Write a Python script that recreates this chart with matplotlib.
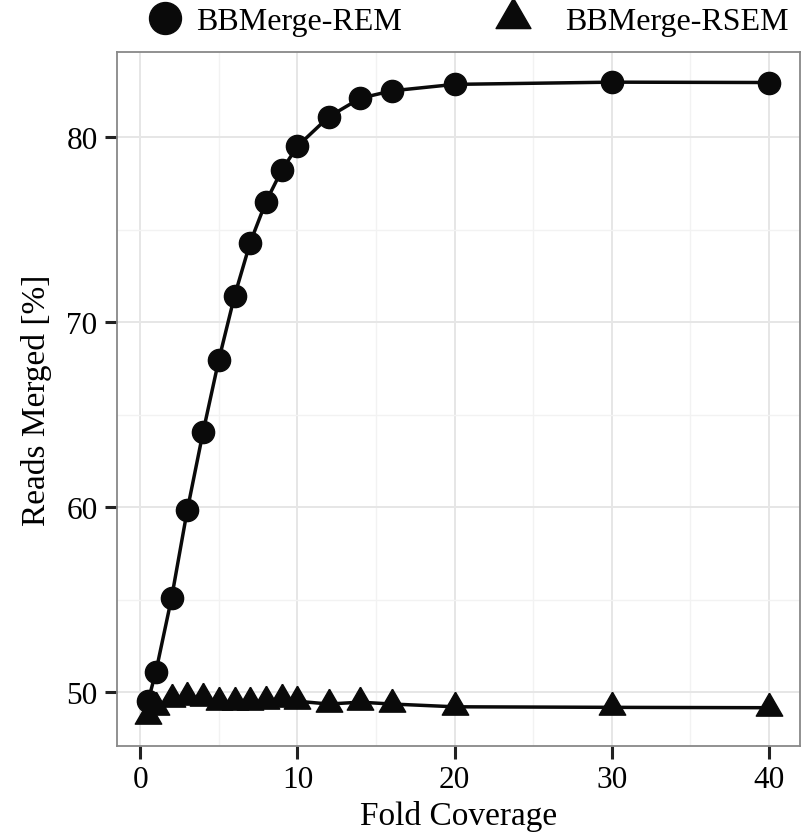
import numpy as np
import matplotlib
matplotlib.use("Agg")
import matplotlib.pyplot as plt
from matplotlib.lines import Line2D

coverage = [0.5, 1, 2, 3, 4, 5, 6, 7, 8, 9, 10, 12, 14, 16, 20, 30, 40]
rem = [49.5, 51.1, 55.1, 59.85, 64.05, 67.95, 71.4, 74.3, 76.5, 78.2, 79.5,
       81.1, 82.1, 82.5, 82.85, 82.97, 82.95]
rsem = [48.7, 49.2, 49.6, 49.75, 49.65, 49.45, 49.45, 49.45, 49.5, 49.6, 49.5,
        49.35, 49.45, 49.35, 49.2, 49.17, 49.15]
series_names = ["BBMerge-REM", "BBMerge-RSEM"]
x_ticks = [0, 10, 20, 30, 40]
y_ticks = [50, 60, 70, 80]

plt.rcParams['font.family'] = ['Liberation Serif', 'DejaVu Serif']

W, H = 804, 837
fig = plt.figure(figsize=(W / 100, H / 100), dpi=100)
ax = fig.add_axes([117 / W, 1 - 747 / H, (800 - 117) / W, (747 - 53) / H])

h = np.sqrt(3) / 2
tri = [(0, 2 * h / 3), (-0.5, -h / 3), (0.5, -h / 3), (0, 2 * h / 3)]

ink = '#0a0a0a'
ax.plot(coverage, rem, color=ink, lw=2.5, marker='o', ms=16, mfc=ink, mec=ink,
        zorder=3, label=series_names[0])
ax.plot(coverage, rsem, color=ink, lw=2.5, marker=tri, ms=22, mfc=ink, mec=ink,
        zorder=3, label=series_names[1])

ax.set_xlim(-1.475, 41.975)
ax.set_ylim(47.08, 84.6)
ax.set_xticks(x_ticks)
ax.set_yticks(y_ticks)
ax.set_xticks([5, 15, 25, 35], minor=True)
ax.set_yticks([55, 65, 75], minor=True)
ax.grid(True, which='major', color='#e6e6e6', lw=1.4, zorder=0)
ax.grid(True, which='minor', color='#f2f2f2', lw=1.0, zorder=0)
ax.set_axisbelow(True)
ax.tick_params(which='major', length=9, width=2.2, color='#222222',
               labelsize=22.5, pad=5)
ax.tick_params(which='minor', length=0)
for s in ax.spines.values():
    s.set_color('#888888')
    s.set_linewidth(1.3)

ax.set_xlabel('Fold Coverage', fontsize=24, labelpad=4)
ax.set_ylabel('Reads Merged [%]', fontsize=24, labelpad=10)

fs_leg = 23
px_per_fs = fs_leg * 100 / 72
hl = 1.2
legend_specs = [
    (series_names[0], Line2D([], [], ls='none', marker='o', ms=23, color=ink), 165, 196),
    (series_names[1], Line2D([], [], ls='none', marker=tri, ms=29, color=ink), 513, 565),
]
for name, handle, cx, tx in legend_specs:
    x0 = cx - hl * px_per_fs / 2
    pad = (tx - (x0 + hl * px_per_fs)) / px_per_fs
    fig.legend([handle], [name], loc='center left',
               bbox_to_anchor=(x0 / W, 1 - 22 / H), frameon=False,
               fontsize=fs_leg, handletextpad=pad, handlelength=hl,
               borderpad=0, borderaxespad=0)

fig.savefig('out.png', dpi=100)
